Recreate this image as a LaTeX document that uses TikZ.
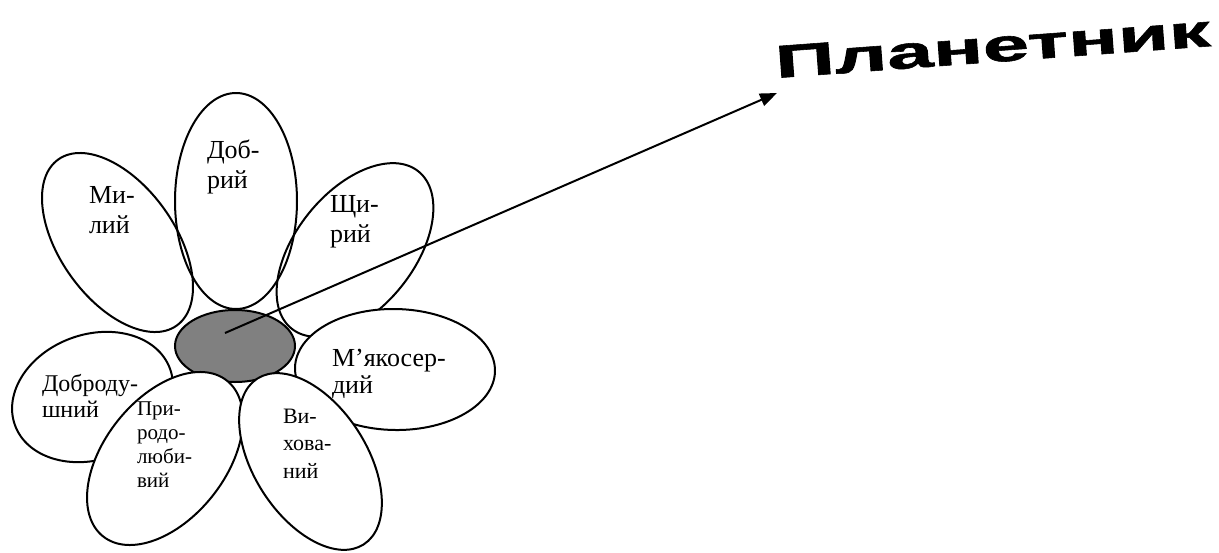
\documentclass[tikz,border=0pt]{standalone}
\usepackage{fontspec}
\setmainfont{Liberation Serif}
\newfontfamily\planfont[FakeBold=1.2]{Liberation Sans Bold}
\usetikzlibrary{shapes.geometric,arrows.meta}
\definecolor{coregray}{RGB}{128,128,128}
\tikzset{
  petal/.style={ellipse, draw=black, line width=2pt, inner sep=0pt, outer sep=0pt},
  filledpetal/.style={petal, fill=white},
  lbl/.style={anchor=base west, align=left, inner sep=0pt, outer sep=0pt},
  big/.style={lbl, font=\fontsize{26}{30}\selectfont},
  mid/.style={lbl, font=\fontsize{24}{26}\selectfont},
  small/.style={lbl, font=\fontsize{21}{24}\selectfont},
  arr/.style={line width=2pt, -{Triangle[length=17pt,width=13pt]}}
}
\begin{document}
\begin{tikzpicture}[x=1pt,y=-1pt]
\useasboundingbox (0,0) rectangle (1219,552);
% upper petals (outlines only)
\node[petal, minimum width=115pt, minimum height=204pt, rotate=35.5] (mylyi) at (117.5,242.5) {};
\node[petal, minimum width=122pt, minimum height=216pt] (dobryi) at (236,201) {};
\node[petal, minimum width=118pt, minimum height=202pt, rotate=-39] (shchyryi) at (355,250) {};
% lower petals
\node[filledpetal, minimum width=200pt, minimum height=121pt, rotate=-1] (miakoserdyi) at (395,369.5) {};
\node[filledpetal, minimum width=165pt, minimum height=125pt, rotate=20] (dobrodushnyi) at (92.5,397) {};
\node[petal, fill=coregray, minimum width=120pt, minimum height=72pt] (core) at (235,346) {};
\node[filledpetal, minimum width=121pt, minimum height=199pt, rotate=-38.5] (pryrodo) at (165,458.5) {};
\node[filledpetal, minimum width=113pt, minimum height=197pt, rotate=32.7] (vykhovanyi) at (310.5,461.5) {};
% labels (anchor = baseline of the last line)
\node[big] (t1) at (207,188) {Доб-\\рий};
\node[big] (t2) at (89,233) {Ми-\\лий};
\node[big] (t3) at (330,242) {Щи-\\рий};
\node[lbl, font=\fontsize{26}{27}\selectfont] (t4) at (332,393) {М’якосер-\\дий};
\node[mid] (t5) at (42,417) {Доброду-\\шний};
\node[small] (t6) at (137,487) {При-\\родо-\\люби-\\вий};
\node[lbl, font=\fontsize{22}{27.5}\selectfont] (t7) at (283,478) {Ви-\\хова-\\ний};
% title
\node[anchor=base west, inner sep=0pt, rotate=4.2, xscale=1.8, font=\planfont\fontsize{46}{50}\selectfont] (plan) at (776,78) {Планетник};
% arrow
\coordinate (start) at (225,333);
\coordinate (tip) at (777,93);
\draw[arr] (start) -- (tip);
\end{tikzpicture}
\end{document}
